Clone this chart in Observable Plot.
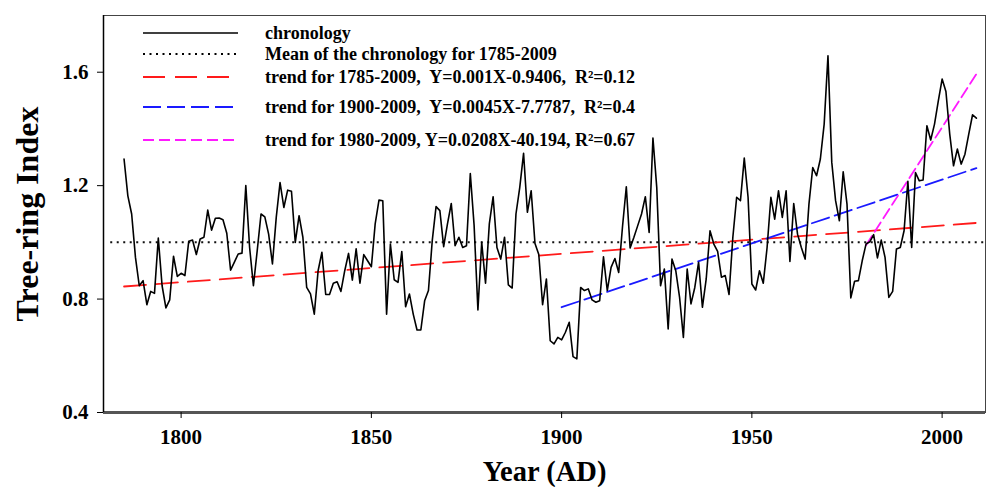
<!DOCTYPE html>
<html>
<head>
<meta charset="utf-8">
<script src="https://cdn.jsdelivr.net/npm/d3@7"></script>
<script src="https://cdn.jsdelivr.net/npm/@observablehq/plot@0.6"></script>
<style>
  body { margin: 0; background: #fff; }
  #wrap { position: relative; width: 987px; height: 487px; overflow: hidden; }
  #legend { position: absolute; left: 0; top: 0; font-family: 'Liberation Serif', 'Times New Roman', serif; font-weight: bold; font-size: 18px; color: #000; }
  .row { position: absolute; left: 143px; height: 22px; display: flex; align-items: center; white-space: pre; }
  .row svg { display: block; margin-right: 27px; }
</style>
</head>
<body>
<div id="wrap"><div id="legend"></div></div>
<script>
// ---- data ----
const startYear = 1785;
const ringIndex = [
  1.294, 1.164, 1.100, 0.947, 0.847, 0.865, 0.780, 0.827, 0.820, 1.015,
  0.847, 0.769, 0.797, 0.951, 0.880, 0.891, 0.883, 1.004, 1.008, 0.957,
  1.012, 1.018, 1.114, 1.043, 1.085, 1.086, 1.080, 1.032, 0.902, 0.930,
  0.959, 0.962, 1.200, 0.982, 0.847, 0.971, 1.100, 1.090, 1.029, 0.924,
  1.088, 1.211, 1.123, 1.184, 1.180, 1.000, 1.094, 1.018, 0.841, 0.818,
  0.747, 0.900, 0.965, 0.816, 0.816, 0.856, 0.861, 0.827, 0.900, 0.961,
  0.867, 0.977, 0.856, 0.957, 0.935, 0.914, 1.065, 1.149, 1.147, 0.747,
  0.994, 0.868, 0.859, 0.968, 0.773, 0.818, 0.747, 0.691, 0.691, 0.794,
  0.830, 1.006, 1.126, 1.112, 0.985, 1.065, 1.137, 0.988, 1.018, 0.982,
  0.988, 1.243, 1.060, 0.762, 1.000, 0.856, 1.065, 1.161, 0.982, 0.941,
  1.018, 0.850, 0.839, 1.100, 1.194, 1.314, 1.106, 1.182, 0.996, 0.957,
  0.780, 0.871, 0.653, 0.642, 0.665, 0.656, 0.683, 0.718, 0.597, 0.589,
  0.841, 0.830, 0.836, 0.797, 0.789, 0.794, 0.949, 0.830, 0.912, 0.943,
  0.894, 1.055, 1.196, 0.980, 1.018, 1.059, 1.100, 1.161, 1.035, 1.368,
  1.194, 0.847, 0.906, 0.695, 0.941, 0.900, 0.806, 0.665, 0.906, 0.783,
  0.841, 0.930, 0.771, 0.871, 1.041, 0.994, 0.968, 0.877, 0.883, 0.816,
  1.018, 1.159, 1.147, 1.297, 1.159, 0.853, 0.832, 0.900, 0.856, 0.982,
  1.159, 1.082, 1.182, 1.088, 1.182, 0.933, 1.137, 1.029, 0.982, 0.941,
  1.135, 1.264, 1.235, 1.294, 1.417, 1.658, 1.282, 1.147, 1.076, 1.249,
  1.135, 0.804, 0.863, 0.865, 0.935, 0.994, 1.002, 1.027, 0.945, 1.008,
  0.947, 0.806, 0.827, 0.977, 0.982, 1.041, 1.215, 0.982, 1.246, 1.217,
  1.220, 1.411, 1.361, 1.417, 1.499, 1.576, 1.532, 1.382, 1.270, 1.329,
  1.276, 1.311, 1.382, 1.450, 1.438
];
const meanValue = 1.0;
const meanSpan = [1781.5, 2011.4];

const trendFrom = [1785, 1900, 1980];
const trendTo = [2009, 2009, 2009];
const trendSlope = [0.001, 0.0045, 0.0208];
const trendIntercept = [-0.9406, -7.7787, -40.194];
const trendColor = ["#ff1a1a", "#1a1aff", "#ff1aff"];
const trendDash = ["22,10", "18,6", "11,5"];

const legendLabels = [
  "chronology",
  "Mean of the chronology for 1785-2009",
  "trend for 1785-2009,  Y=0.001X-0.9406,  R²=0.12",
  "trend for 1900-2009,  Y=0.0045X-7.7787,  R²=0.4",
  "trend for 1980-2009, Y=0.0208X-40.194, R²=0.67"
];
const legendStroke = ["#000", "#000", ...trendColor];
const legendDash = ["none", "2,4.5", ...trendDash];
const legendWidth = [1.6, 2, 2, 2, 1.8];
const legendY = [33, 54, 77, 107, 140];

const xTicks = [1800, 1850, 1900, 1950, 2000];
const yTicks = [0.4, 0.8, 1.2, 1.6];
const xDomain = [1779.6, 2011.4];
const yDomain = [0.4, 1.8];

// ---- build ----
const chron = ringIndex.map((v, i) => ({year: startYear + i, value: v}));
const trends = trendFrom.map((a, k) => [a, trendTo[k]].map(x => ({year: x, value: trendSlope[k] * x + trendIntercept[k], k})));
const serif = "'Liberation Serif', 'Times New Roman', serif";

const plot = Plot.plot({
  width: 987,
  height: 487,
  marginLeft: 103,
  marginRight: 2,
  marginTop: 15,
  marginBottom: 75,
  x: {domain: xDomain},
  y: {domain: yDomain},
  style: {fontFamily: serif, fontWeight: "bold", fontSize: "21px", background: "#fff", color: "#000"},
  marks: [
    Plot.frame({stroke: "#444", strokeWidth: 1}),
    Plot.ruleY([{y: meanValue, x1: meanSpan[0], x2: meanSpan[1]}], {y: "y", x1: "x1", x2: "x2", stroke: "#111", strokeWidth: 2, strokeDasharray: "2,4.5"}),
    ...trends.map((t, k) => Plot.line(t, {x: "year", y: "value", stroke: trendColor[k], strokeWidth: 1.8, strokeDasharray: trendDash[k]})),
    Plot.line(chron, {x: "year", y: "value", stroke: "#000", strokeWidth: 1.6}),
    Plot.ruleY([yDomain[0]], {stroke: "#555", strokeWidth: 3}),
    Plot.ruleX([xDomain[0]], {stroke: "#000", strokeWidth: 1.5}),
    Plot.axisX(xTicks, {tickSize: 6, tickPadding: 11, label: null, fontSize: 21, stroke: "#000", tickFormat: d => String(d)}),
    Plot.axisY(yTicks, {tickSize: 6, tickPadding: 9, label: null, fontSize: 21, stroke: "#000", tickFormat: d => d.toFixed(1)}),
    Plot.text(["Year (AD)"], {frameAnchor: "bottom", lineAnchor: "middle", textAnchor: "middle", dy: 59, fontSize: 28.5, fontWeight: "bold"}),
    Plot.text(["Tree-ring Index"], {frameAnchor: "left", lineAnchor: "middle", textAnchor: "middle", dx: -76, rotate: -90, fontSize: 32, fontWeight: "bold"})
  ]
});
const wrap = document.getElementById("wrap");
wrap.insertBefore(plot, wrap.firstChild);

// legend overlay
const legend = document.getElementById("legend");
legendLabels.forEach((lab, i) => {
  const row = document.createElement("div");
  row.className = "row";
  row.style.top = (legendY[i] - 11) + "px";
  const ns = "http://www.w3.org/2000/svg";
  const s = document.createElementNS(ns, "svg");
  s.setAttribute("width", 95); s.setAttribute("height", 6);
  const l = document.createElementNS(ns, "line");
  l.setAttribute("x1", 0); l.setAttribute("x2", 95); l.setAttribute("y1", 3); l.setAttribute("y2", 3);
  l.setAttribute("stroke", legendStroke[i]);
  l.setAttribute("stroke-width", legendWidth[i]);
  if (legendDash[i] !== "none") l.setAttribute("stroke-dasharray", legendDash[i]);
  s.appendChild(l);
  row.appendChild(s);
  const sp = document.createElement("span");
  sp.textContent = lab;
  row.appendChild(sp);
  legend.appendChild(row);
});
</script>
</body>
</html>
